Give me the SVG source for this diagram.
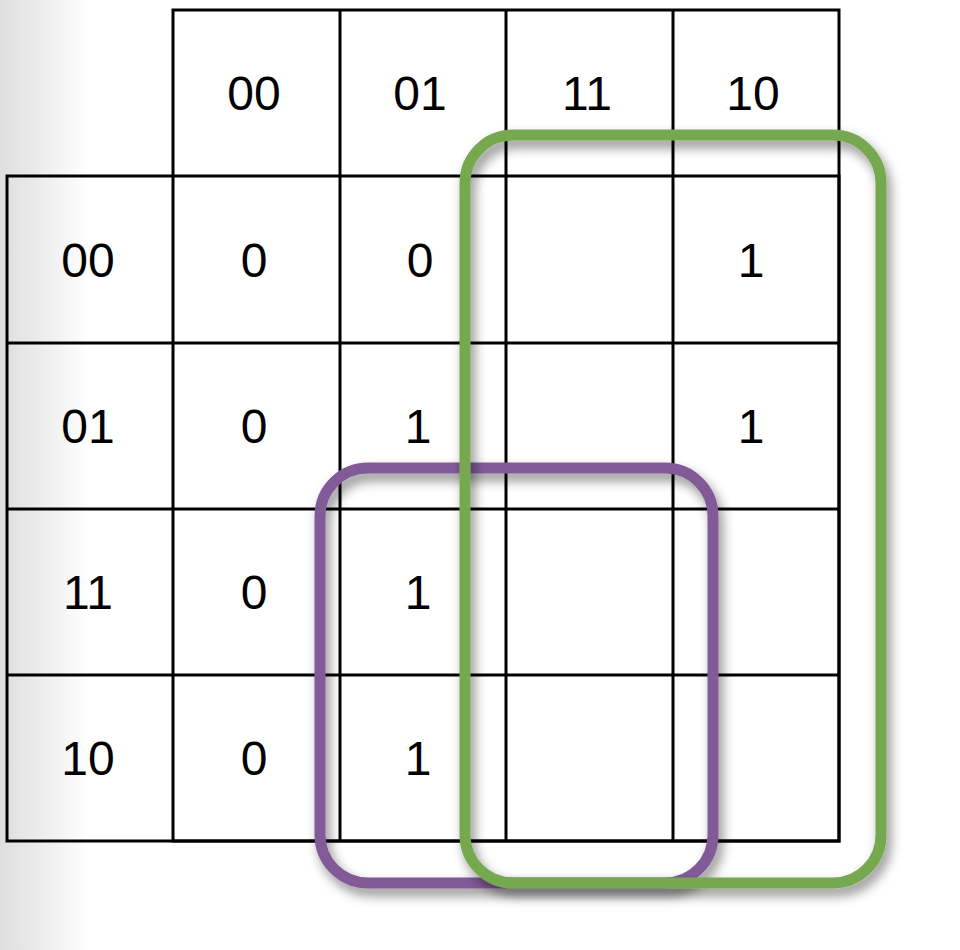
<svg xmlns="http://www.w3.org/2000/svg" width="960" height="950" viewBox="0 0 960 950">
<defs>
<linearGradient id="lg" x1="0" y1="0" x2="1" y2="0">
<stop offset="0" stop-color="#dedede"/>
<stop offset="1" stop-color="#ffffff"/>
</linearGradient>
<filter id="sh" x="-10%" y="-10%" width="125%" height="125%">
<feDropShadow dx="4" dy="7" stdDeviation="6" flood-color="#000" flood-opacity="0.45"/>
</filter>
<style>
.c{fill:none;stroke:#000;stroke-width:3}
.t{font-family:"Liberation Sans",Arial,Helvetica,sans-serif;font-size:48px;fill:#000;text-anchor:middle}
.g{fill:none;stroke-width:11}
</style>
</defs>
<rect x="0" y="0" width="960" height="950" fill="#fff"/>
<rect x="0" y="0" width="90" height="950" fill="url(#lg)"/>
<g id="grid">
<rect class="c" x="173" y="10" width="666" height="831"/>
<rect class="c" x="7" y="176" width="832" height="665"/>
<line class="c" x1="340" y1="10" x2="340" y2="841"/>
<line class="c" x1="506" y1="10" x2="506" y2="841"/>
<line class="c" x1="673" y1="10" x2="673" y2="841"/>
<line class="c" x1="7" y1="343" x2="839" y2="343"/>
<line class="c" x1="7" y1="509" x2="839" y2="509"/>
<line class="c" x1="7" y1="675" x2="839" y2="675"/>
</g>
<g id="col-headers">
<text class="t" x="254" y="110">00</text>
<text class="t" x="420" y="110">01</text>
<text class="t" x="587" y="110">11</text>
<text class="t" x="753" y="110">10</text>
</g>
<g id="row-headers">
<text class="t" x="88" y="277">00</text>
<text class="t" x="88" y="443">01</text>
<text class="t" x="88" y="609">11</text>
<text class="t" x="88" y="775">10</text>
</g>
<g id="values">
<text class="t" x="254" y="277">0</text>
<text class="t" x="420" y="277">0</text>
<text class="t" x="751" y="277">1</text>
<text class="t" x="254" y="443">0</text>
<text class="t" x="418" y="443">1</text>
<text class="t" x="751" y="443">1</text>
<text class="t" x="254" y="609">0</text>
<text class="t" x="418" y="609">1</text>
<text class="t" x="254" y="775">0</text>
<text class="t" x="418" y="775">1</text>
</g>
<g id="groups">
<rect id="purple-group" class="g" x="320" y="468" width="393" height="415" rx="48" stroke="#825a98" filter="url(#sh)"/>
<rect id="green-group" class="g" x="465" y="135" width="416" height="748" rx="48" stroke="#74a84f" filter="url(#sh)"/>
</g>
</svg>
